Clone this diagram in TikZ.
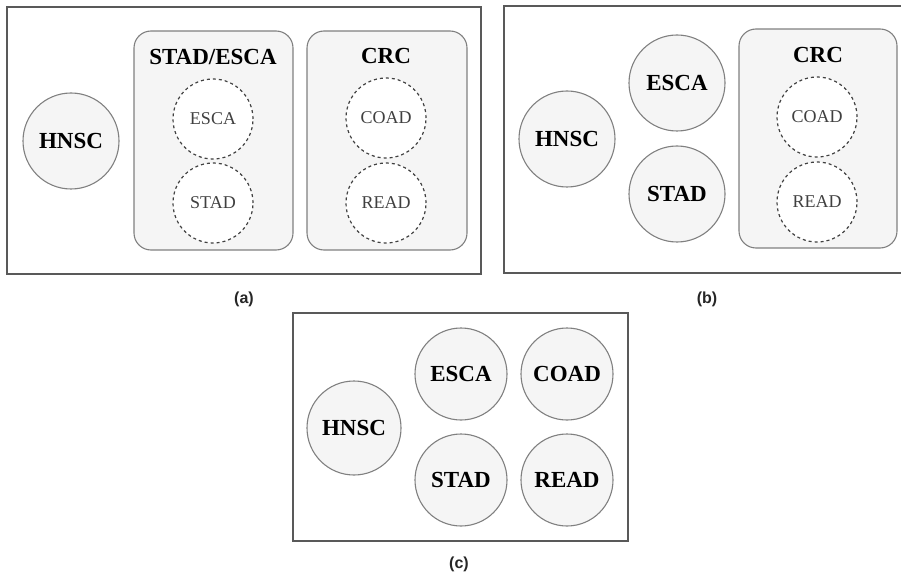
\documentclass[tikz,border=0pt]{standalone}
\usepackage{fontspec}
\setmainfont{Liberation Serif}
\newfontfamily\capfont{Liberation Sans}
\usetikzlibrary{shapes, positioning}

\tikzset{
  frame/.style={draw=black!65, line width=1.6pt, inner sep=0pt},
  group/.style={draw=black!50, line width=1.1pt, fill=black!4, rounded corners=17pt, inner sep=0pt, minimum height=219pt},
  task/.style={circle, draw=black!50, line width=1.1pt, fill=black!4, inner sep=0pt, font=\fontsize{23}{26}\selectfont\bfseries},
  subtask/.style={circle, draw=black!75, line width=1.2pt, dash pattern=on 3pt off 3pt, fill=white, inner sep=0pt, minimum size=80pt, text=black!75, font=\fontsize{18}{21}\selectfont},
  title/.style={font=\fontsize{23}{26}\selectfont\bfseries},
  caption/.style={font=\capfont\fontsize{16}{18}\selectfont\bfseries, text=black!85}
}

\begin{document}
\begin{tikzpicture}[x=1pt, y=-1pt]
      \useasboundingbox (0,0) rectangle (901,577);

      % Frames
      \node[frame, minimum width=474pt, minimum height=267pt] (fa) at (244,140.5) {};
      \node[frame, minimum width=398pt, minimum height=267pt] (fb) at (703,139.5) {};
      \node[frame, minimum width=335pt, minimum height=228pt] (fc) at (460.5,427) {};

      % (a)
      \node[task, minimum size=96pt] (hnsca) at (71,141) {HNSC};
      \node[group, minimum width=159pt] (stesa) at (213.5,140.5) {};
      \node[title] at (213,57) {STAD/ESCA};
      \node[subtask] (escaa) at (213,119) {ESCA};
      \node[subtask] (stada) at (213,203) {STAD};
      \node[group, minimum width=160pt] (crca) at (387,140.5) {};
      \node[title] at (386,56) {CRC};
      \node[subtask] (coada) at (386,118) {COAD};
      \node[subtask] (reada) at (386,203) {READ};

      % (b)
      \node[task, minimum size=96pt] (hnscb) at (567,139) {HNSC};
      \node[task, minimum size=96pt] (escab) at (677,83) {ESCA};
      \node[task, minimum size=96pt] (stadb) at (677,194) {STAD};
      \node[group, minimum width=158pt] (crcb) at (818,138.5) {};
      \node[title] at (818,55) {CRC};
      \node[subtask] (coadb) at (817,117) {COAD};
      \node[subtask] (readb) at (817,202) {READ};

      % (c)
      \node[task, minimum size=94pt] (hnscc) at (354,428) {HNSC};
      \node[task, minimum size=92pt] (escac) at (461,374) {ESCA};
      \node[task, minimum size=92pt] (coadc) at (567,374) {COAD};
      \node[task, minimum size=92pt] (stadc) at (461,480) {STAD};
      \node[task, minimum size=92pt] (readc) at (567,480) {READ};

      % Captions
      \node[caption] (capa) at (244,299) {(a)};
      \node[caption] (capb) at (707,299) {(b)};
      \node[caption] (capc) at (459,564) {(c)};

    \end{tikzpicture}
\end{document}
